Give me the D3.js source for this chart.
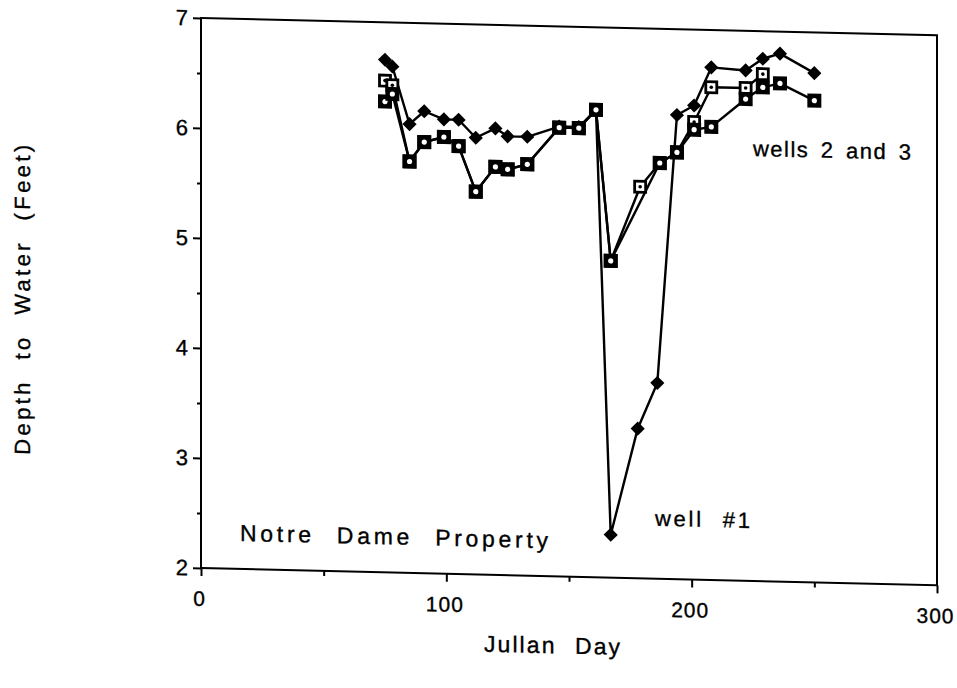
<!DOCTYPE html>
<html>
<head>
<meta charset="utf-8">
<script src="https://cdn.jsdelivr.net/npm/d3@7"></script>
<style>
  body { margin: 0; background: #fff; }
  text { font-family: "Liberation Sans", Arial, Helvetica, sans-serif; fill: #000; stroke: #000; stroke-width: 0.35px; }
</style>
</head>
<body>
<svg id="chart" width="957" height="688"></svg>
<script>
// Well #1 (filled diamonds)
const well1Days  = [75, 78, 85, 91, 99, 105, 112, 120, 125, 133, 146, 154, 161, 167, 178, 186, 194, 201, 208, 222, 229, 236, 250];
const well1Depth = [6.66, 6.60, 6.08, 6.20, 6.13, 6.13, 5.97, 6.06, 5.99, 5.99, 6.09, 6.09, 6.25, 2.39, 3.36, 3.78, 6.22, 6.31, 6.66, 6.64, 6.75, 6.80, 6.63];

// Well 2 (open squares)
const well2Days  = [75, 78, 85, 91, 99, 105, 112, 120, 125, 133, 146, 154, 161, 167, 179, 187, 194, 201, 208, 222, 229];
const well2Depth = [6.47, 6.43, 5.74, 5.92, 5.97, 5.89, 5.48, 5.71, 5.69, 5.74, 6.08, 6.08, 6.25, 4.88, 5.56, 5.78, 5.88, 6.16, 6.48, 6.48, 6.61];

// Well 3 (solid squares)
const well3Days  = [75, 78, 85, 91, 99, 105, 112, 120, 125, 133, 146, 154, 161, 167, 187, 194, 201, 208, 222, 229, 236, 250];
const well3Depth = [6.28, 6.35, 5.74, 5.92, 5.97, 5.89, 5.48, 5.71, 5.69, 5.74, 6.08, 6.08, 6.25, 4.88, 5.78, 5.88, 6.09, 6.12, 6.38, 6.49, 6.53, 6.38];

const xTicks = [0, 100, 200, 300];
const xMinorTicks = [50, 150, 250];
const yTicks = [2, 3, 4, 5, 6, 7];
const yMinorTicks = [2.5, 3.5, 4.5, 5.5, 6.5];

const zip = (days, vals) => days.map((d, i) => ({ day: d, v: vals[i] }));
const well1 = zip(well1Days, well1Depth);
const well2 = zip(well2Days, well2Depth);
const well3 = zip(well3Days, well3Depth);

const margin = { left: 201, top: 18 };
const W = 736, H = 550;
const tilt = 1.35; // the whole sheet sits slightly askew

const x = d3.scaleLinear().domain([0, 300]).range([0, W]);
const y = d3.scaleLinear().domain([2, 7]).range([H, 0]);

const svg = d3.select("#chart");
const g = svg.append("g")
  .attr("transform", `translate(${margin.left},${margin.top}) skewY(${tilt})`);

// frame
g.append("rect")
  .attr("x", 0).attr("y", 0).attr("width", W).attr("height", H)
  .attr("fill", "none").attr("stroke", "#000").attr("stroke-width", 2);

// y axis
const yAxis = g.append("g")
  .call(d3.axisLeft(y).tickValues(yTicks).tickSize(8).tickPadding(5).tickFormat(d3.format("d")));
const yMinor = g.append("g")
  .call(d3.axisLeft(y).tickValues(yMinorTicks).tickSize(4).tickFormat(""));

// x axis
const xAxis = g.append("g").attr("transform", `translate(0,${H})`)
  .call(d3.axisBottom(x).tickValues(xTicks).tickSize(8).tickPadding(15).tickFormat(d3.format("d")));
const xMinor = g.append("g").attr("transform", `translate(0,${H})`)
  .call(d3.axisBottom(x).tickValues(xMinorTicks).tickSize(5).tickFormat(""));

[yAxis, yMinor, xAxis, xMinor].forEach(a => {
  a.select(".domain").remove();
  a.selectAll("line").attr("stroke", "#000").attr("stroke-width", 2);
  a.selectAll("text").attr("font-size", 22).attr("fill", "#000")
    .style("font-family", '"Liberation Sans", Arial, sans-serif');
});
xAxis.selectAll("text").attr("letter-spacing", 1).attr("font-size", 21).attr("dx", -2);

// lines
const line = d3.line().x(d => x(d.day)).y(d => y(d.v));
[well1, well2, well3].forEach(s => {
  g.append("path").datum(s)
    .attr("d", line).attr("fill", "none")
    .attr("stroke", "#000").attr("stroke-width", 2.4).attr("stroke-linejoin", "round");
});

// diamonds for well #1
g.append("g").selectAll("path").data(well1).join("path")
  .attr("d", d3.symbol(d3.symbolSquare, 100)())
  .attr("transform", d => `translate(${x(d.day)},${y(d.v)}) rotate(45)`)
  .attr("fill", "#000");

// open squares for well 2
const m2 = g.append("g").selectAll("g").data(well2).join("g")
  .attr("transform", d => `translate(${x(d.day)},${y(d.v)})`);
m2.append("rect").attr("x", -5.5).attr("y", -5.5).attr("width", 11).attr("height", 11)
  .attr("fill", "#fff").attr("stroke", "#000").attr("stroke-width", 2.8);
m2.append("circle").attr("r", 1.8).attr("fill", "#000");

// solid squares for well 3
const m3 = g.append("g").selectAll("g").data(well3).join("g")
  .attr("transform", d => `translate(${x(d.day)},${y(d.v)})`);
m3.append("rect").attr("x", -7).attr("y", -7).attr("width", 14).attr("height", 14)
  .attr("fill", "#000");
m3.append("circle").attr("r", 2.6).attr("fill", "#fff");

// annotations
g.append("text").attr("x", 552).attr("y", 125).attr("font-size", 22)
  .attr("word-spacing", 4)
  .attr("textLength", 158).attr("lengthAdjust", "spacing")
  .text("wells 2 and 3");
g.append("text").attr("x", 454).attr("y", 497).attr("font-size", 22)
  .attr("word-spacing", 10)
  .attr("textLength", 95).attr("lengthAdjust", "spacing")
  .text("well #1");
g.append("text").attr("x", 39).attr("y", 522).attr("font-size", 23)
  .attr("word-spacing", 12)
  .attr("textLength", 308).attr("lengthAdjust", "spacing")
  .text("Notre Dame Property");

// axis titles
g.append("text").attr("x", 283).attr("y", 627).attr("font-size", 23)
  .attr("word-spacing", 10)
  .attr("textLength", 136).attr("lengthAdjust", "spacing")
  .text("Jullan Day");
g.append("text")
  .attr("transform", `translate(-171,286) rotate(-90)`)
  .attr("text-anchor", "middle").attr("font-size", 22)
  .attr("word-spacing", 10)
  .attr("textLength", 310).attr("lengthAdjust", "spacing")
  .text("Depth to Water (Feet)");
</script>
</body>
</html>
